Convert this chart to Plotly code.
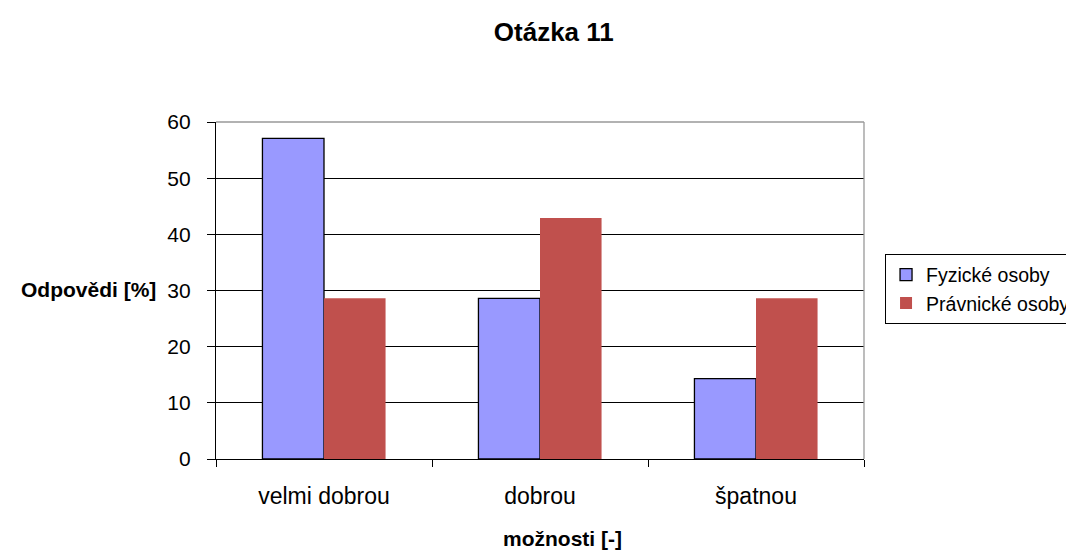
import plotly.graph_objects as go

# data
moznosti = ['velmi dobrou', 'dobrou', 'špatnou']
fyzicke = [57.1, 28.6, 14.3]
pravnicke = [28.6, 42.9, 28.6]
y_ticks = [0, 10, 20, 30, 40, 50, 60]

font = 'Liberation Sans, Arial, sans-serif'

fig = go.Figure()
fig.add_trace(go.Bar(x=moznosti, y=fyzicke, name='Fyzické osoby',
                     marker=dict(color='#9999FF', line=dict(color='black', width=1.3))))
fig.add_trace(go.Bar(x=moznosti, y=pravnicke, name='Právnické osoby',
                     marker=dict(color='#C0504D', line=dict(color='#C0504D', width=0))))

# page body has an 8px margin, so the figure is 8px smaller than the window
fig.update_layout(
    width=1066, height=542,
    margin=dict(l=208, r=210, t=114, b=91, autoexpand=False),
    paper_bgcolor='white', plot_bgcolor='white',
    font=dict(family=font, size=21, color='black'),
    title=dict(text='<b>Otázka 11</b>', x=0.512, xanchor='center', y=0.956, yanchor='middle',
               font=dict(size=26, family=font, color='black')),
    barmode='group', bargap=0.43, bargroupgap=0,
    legend=dict(x=1.032, xanchor='left', y=0.504, yanchor='middle',
                bordercolor='black', borderwidth=1.3, bgcolor='white',
                font=dict(size=19.5, family=font), itemwidth=30),
    showlegend=True,
)

fig.update_xaxes(showline=True, linecolor='black', linewidth=1.3,
                 ticks='outside', tickson='boundaries', ticklen=7, tickcolor='black',
                 showgrid=False, tickfont=dict(size=23), ticklabelstandoff=16)
fig.update_yaxes(range=[0, 60], tickvals=y_ticks, showline=True, linecolor='black', linewidth=1.3,
                 ticks='outside', ticklen=8, tickcolor='black',
                 showgrid=True, gridcolor='black', gridwidth=1,
                 zeroline=False, tickfont=dict(size=21), ticklabelstandoff=12)

# grey plot border top/right
fig.add_shape(type='line', xref='paper', yref='paper', x0=0, x1=1, y0=1, y1=1,
              line=dict(color='#999999', width=1.3), layer='above')
fig.add_shape(type='line', xref='paper', yref='paper', x0=1, x1=1, y0=0, y1=1,
              line=dict(color='#999999', width=1.3), layer='above')

fig.add_annotation(text='<b>Odpovědi [%]</b>', xref='paper', yref='paper',
                   x=-0.0895, y=0.504, xanchor='right', yanchor='middle', showarrow=False,
                   font=dict(size=21, family=font))
fig.add_annotation(text='<b>možnosti [-]</b>', xref='paper', yref='paper',
                   x=0.534, y=-0.235, xanchor='center', yanchor='middle', showarrow=False,
                   font=dict(size=21, family=font))

fig.write_html('out.html')
